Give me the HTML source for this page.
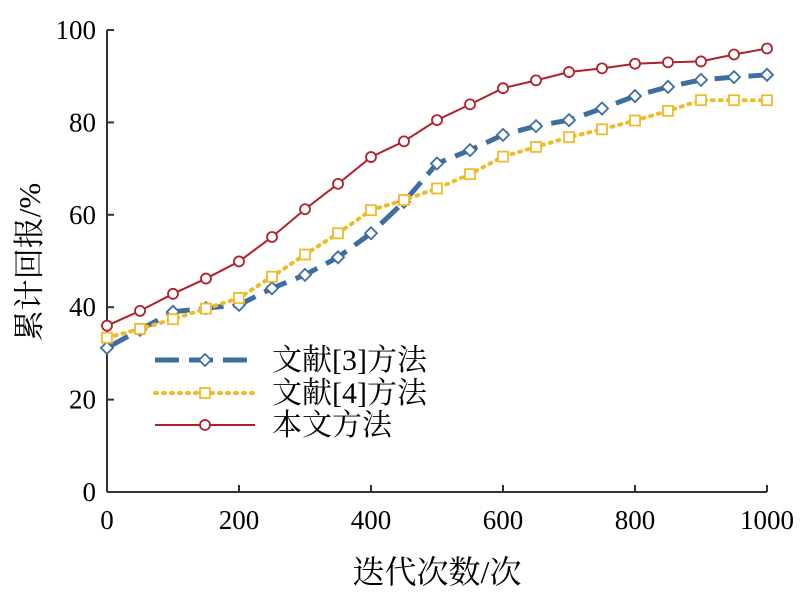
<!DOCTYPE html>
<html><head><meta charset="utf-8"><style>
body{margin:0;background:#fff}
svg{display:block}
text{font-family:"Liberation Serif","Noto Serif CJK SC",serif;fill:#000}
</style></head><body>
<svg id="chart" width="809" height="598">
<g id="axes"></g><g id="series"></g><g id="legend"></g>
</svg>
<script>
const xValues=[0,50,100,150,200,250,300,350,400,450,500,550,600,650,700,750,800,850,900,950,1000];
const seriesRef3=[31.2,35.1,39.0,39.8,40.5,44.1,47.0,50.8,56.0,62.8,71.1,74.0,77.3,79.2,80.5,83.0,85.7,87.7,89.2,89.8,90.3];
const seriesRef4=[33.4,35.3,37.4,39.7,42.0,46.6,51.4,56.0,61.0,63.2,65.7,68.8,72.6,74.7,76.8,78.5,80.4,82.5,84.8,84.8,84.8];
const seriesOurs=[36.0,39.2,42.9,46.2,49.9,55.2,61.2,66.7,72.5,75.9,80.5,83.9,87.4,89.1,90.9,91.7,92.7,93.0,93.2,94.7,96.0];
const xTicks=[0,200,400,600,800,1000];
const yTicks=[0,20,40,60,80,100];
const names=["文献[3]方法","文献[4]方法","本文方法"];

const NS="http://www.w3.org/2000/svg";
const X=v=>107+v*0.66, Y=v=>492-v*4.62;
function mk(p,t,a){const e=document.createElementNS(NS,t);for(const k in a)e.setAttribute(k,a[k]);p.appendChild(e);return e;}
const axes=document.getElementById('axes'),ser=document.getElementById('series'),leg=document.getElementById('legend');
let e=mk(axes,'line',{x1:107,y1:30,x2:107,y2:492,stroke:'#333','stroke-width':2});

e=mk(axes,'line',{x1:107,y1:492,x2:767,y2:492,stroke:'#333','stroke-width':2});

yTicks.forEach(v=>{
 e=mk(axes,'line',{x1:107,y1:Y(v),x2:114,y2:Y(v),stroke:'#333','stroke-width':2});
 
 e=mk(axes,'text',{x:96,y:Y(v)+9,'text-anchor':'end','font-size':27});e.textContent=v;
 
});
xTicks.forEach(v=>{
 e=mk(axes,'line',{x1:X(v),y1:492,x2:X(v),y2:485,stroke:'#333','stroke-width':2});
 
 e=mk(axes,'text',{x:X(v),y:529,'text-anchor':'middle','font-size':27});e.textContent=v;
 
});
e=mk(axes,'text',{x:437,y:583,'text-anchor':'middle','font-size':32});e.textContent='迭代次数/次';

e=mk(axes,'text',{x:0,y:0,'text-anchor':'middle','font-size':31,transform:'translate(40,262) rotate(-90)'});e.textContent='累计回报/%';


const styles=[
 {c:'#3d6e9e',w:5,dash:'24 10',cap:'butt',m:'d'},
 {c:'#f0bb2a',w:4,dash:'2 6',cap:'round',m:'s'},
 {c:'#b0222a',w:2,dash:'',cap:'butt',m:'c'}];
function marker(g,m,x,y,c){
 if(m==='d')return mk(g,'polygon',{points:`${x-6},${y} ${x},${y-6} ${x+6},${y} ${x},${y+6}`,fill:'#fff',stroke:c,'stroke-width':1.8});
 if(m==='s')return mk(g,'rect',{x:x-5,y:y-5,width:10,height:10,fill:'#fff',stroke:c,'stroke-width':1.8});
 return mk(g,'circle',{cx:x,cy:y,r:5,fill:'#fff',stroke:c,'stroke-width':1.8});
}
[seriesRef3,seriesRef4,seriesOurs].forEach((d,i)=>{
 const s=styles[i];
 const g=mk(ser,'g',{});
 
 const pl=mk(g,'polyline',{points:d.map((v,j)=>X(xValues[j])+','+Y(v)).join(' '),fill:'none',stroke:s.c,'stroke-width':s.w,'stroke-dasharray':s.dash,'stroke-linecap':s.cap});
 
 d.forEach((v,j)=>{const mm=marker(g,s.m,X(xValues[j]),Y(v),s.c);
  });
 const ly=[360,393,425][i];
 const lg=mk(leg,'g',{});
 
 mk(lg,'line',{x1:155,y1:ly,x2:255,y2:ly,stroke:s.c,'stroke-width':s.w,'stroke-dasharray':s.dash,'stroke-linecap':s.cap});
 marker(lg,s.m,205,ly,s.c);
 const t=mk(lg,'text',{x:272,y:ly+10,'font-size':30});t.textContent=names[i];
});
</script>
</body></html>
